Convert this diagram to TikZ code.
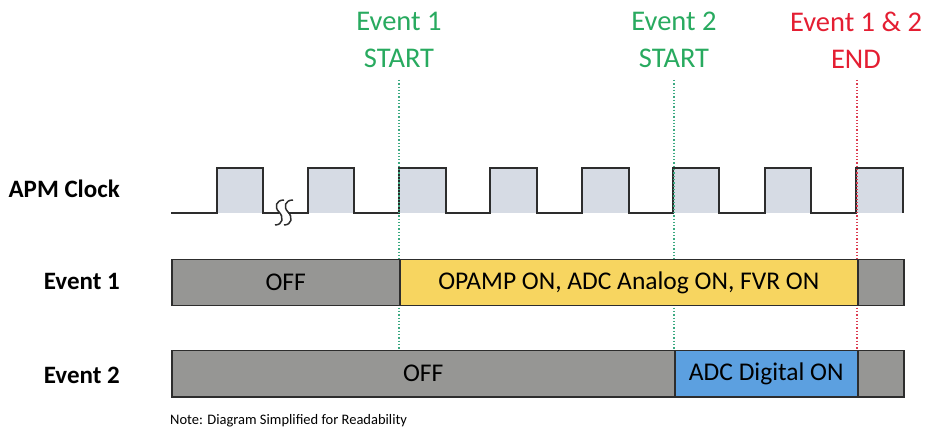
\documentclass[tikz,border=0pt]{standalone}
\usepackage{fontspec}
\setmainfont{Carlito}
\definecolor{evgreen}{RGB}{40,170,95}
\definecolor{evred}{RGB}{228,30,50}
\definecolor{lngreen}{RGB}{60,170,130}
\definecolor{lnred}{RGB}{220,60,80}
\definecolor{offgray}{RGB}{150,150,148}
\definecolor{onyellow}{RGB}{247,213,96}
\definecolor{onblue}{RGB}{92,160,224}
\definecolor{clkfill}{RGB}{214,219,228}
\definecolor{edge}{RGB}{45,45,45}
\tikzset{
  sidelabel/.style={font=\bfseries\fontsize{25}{30}\selectfont, anchor=base east, inner sep=0pt},
  toplabel/.style={font=\fontsize{28.5}{37}\selectfont, align=center, inner sep=0pt, anchor=north},
  barseg/.style={draw=edge, line width=1.5pt, anchor=north west, inner sep=0pt, minimum height=46pt, font=\fontsize{25.5}{28}\selectfont},
  clk/.style={draw=edge, line width=2pt, line join=miter},
  gline/.style={draw=lngreen, line width=1.3pt, dotted},
  rline/.style={draw=lnred, line width=1.3pt, dotted},
}
\begin{document}
\begin{tikzpicture}[x=1pt,y=-1pt]
\useasboundingbox (0,0) rectangle (940,430);
% side labels
\node[sidelabel] (lclk) at (120,198) {APM Clock};
\node[sidelabel] (lev1) at (120,290) {Event 1};
\node[sidelabel] (lev2) at (120,383) {Event 2};
% top labels
\node[toplabel, text=evgreen] (t1) at (399,12) {Event 1\\START};
\node[toplabel, text=evgreen] (t2) at (674,12) {Event 2\\START};
\node[toplabel, text=evred] (t3) at (856,12) {Event 1 \& 2\\END};
% clock fills
\foreach \r/\f in {217/263,308/354,399/446,490/537,582/629,673/719,765/811,856/903}{
  \fill[clkfill] (\r,168) rectangle (\f,213);
}
% clock waveform
\draw[clk] (171,213) -- (217,213) -- (217,168) -- (263,168) -- (263,213) -- (279,213);
\draw[clk] (288,213) -- (308,213) -- (308,168) -- (354,168) -- (354,213)
  -- (399,213) -- (399,168) -- (446,168) -- (446,213)
  -- (490,213) -- (490,168) -- (537,168) -- (537,213)
  -- (582,213) -- (582,168) -- (629,168) -- (629,213)
  -- (673,213) -- (673,168) -- (719,168) -- (719,213)
  -- (765,213) -- (765,168) -- (811,168) -- (811,213)
  -- (856,213) -- (856,168) -- (903,168) -- (903,213);
% break symbol
\foreach \dx in {0,9}{
  \draw[edge, line width=1.5pt, xshift=\dx pt] (284,200) .. controls (276,200) and (274,207) .. (279,212) .. controls (284,217) and (283,225) .. (275,225);
}
% event lines
\coordinate (s1) at (399,80);
\coordinate (s2) at (674,80);
\coordinate (s3) at (857,80);
\coordinate (b1) at (399,350);
\coordinate (b2) at (674,350);
\coordinate (b3) at (857,350);
\draw[gline] (s1) -- (b1);
\draw[gline] (s2) -- (b2);
\draw[rline] (s3) -- (b3);
% Event 1 bar
\node[barseg, fill=offgray, minimum width=228pt] (e1off) at (171,259) {OFF};
\node[barseg, fill=onyellow, minimum width=458pt] (e1on) at (399,259) {OPAMP ON, ADC Analog ON, FVR ON};
\node[barseg, fill=offgray, minimum width=46pt] (e1end) at (857,259) {};
% Event 2 bar
\node[barseg, fill=offgray, minimum width=503pt] (e2off) at (171,350) {OFF};
\node[barseg, fill=onblue, minimum width=183pt] (e2on) at (674,350) {ADC Digital ON};
\node[barseg, fill=offgray, minimum width=46pt] (e2end) at (857,350) {};
% note
\node[anchor=base west, inner sep=0pt, font=\fontsize{14.5}{17}\selectfont] (note) at (170,424) {Note: Diagram Simplified for Readability};
\end{tikzpicture}
\end{document}
